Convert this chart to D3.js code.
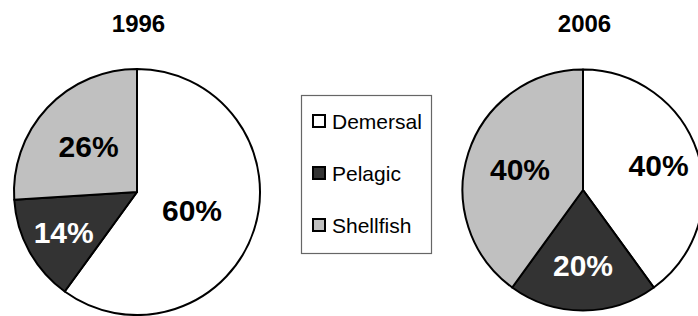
<!DOCTYPE html>
<html>
<head>
<meta charset="utf-8">
<script src="https://cdn.jsdelivr.net/npm/d3@7"></script>
<style>
  body { margin: 0; background: #fff; }
  svg text { font-family: Arial, "Liberation Sans", sans-serif; }
</style>
</head>
<body>
<div id="chart"></div>
<script>
// data
var categories = ["Demersal", "Pelagic", "Shellfish"];
var years = ["1996", "2006"];
var values1996 = [60, 14, 26];
var values2006 = [40, 20, 40];

// colours per category
var colors = ["#ffffff", "#333333", "#c0c0c0"];
var labelColors = ["#000000", "#ffffff", "#000000"];

var svgWidth = 698, svgHeight = 316;

var svg = d3.select("#chart")
    .append("svg")
    .attr("width", svgWidth)
    .attr("height", svgHeight);

// layout for the two pies (centre, radius, label distance as share of radius)
var pies = [
    { year: years[0], values: values1996, cx: 137, cy: 192, r: 123, labelR: [0.47, 0.68, 0.54] },
    { year: years[1], values: values2006, cx: 583, cy: 190, r: 120.5, labelR: [0.66, 0.62, 0.55] }
];

var pie = d3.pie().sort(null).value(d => d);

pies.forEach(function(p) {
    var g = svg.append("g")
        .attr("transform", `translate(${p.cx}, ${p.cy})`);

    var arc = d3.arc().innerRadius(0).outerRadius(p.r);
    var arcs = pie(p.values);

    g.selectAll("path")
        .data(arcs)
        .enter()
        .append("path")
        .attr("d", arc)
        .attr("fill", (d, i) => colors[i])
        .attr("stroke", "#000")
        .attr("stroke-width", 2)
        .attr("stroke-linejoin", "round");

    g.selectAll("text.pct")
        .data(arcs)
        .enter()
        .append("text")
        .attr("class", "pct")
        .attr("transform", function(d, i) {
            var la = d3.arc().innerRadius(p.r * p.labelR[i]).outerRadius(p.r * p.labelR[i]);
            return `translate(${la.centroid(d)})`;
        })
        .attr("dy", "0.36em")
        .attr("text-anchor", "middle")
        .attr("font-size", "30px")
        .attr("font-weight", "bold")
        .attr("fill", (d, i) => labelColors[i])
        .text(d => d.data + "%");

    // year title
    svg.append("text")
        .attr("x", p.cx + 1.5)
        .attr("y", 32)
        .attr("text-anchor", "middle")
        .attr("font-size", "24px")
        .attr("font-weight", "bold")
        .text(p.year);
});

// legend
var legend = svg.append("g")
    .attr("transform", "translate(301, 95)");

legend.append("rect")
    .attr("x", 0.5)
    .attr("y", 0.5)
    .attr("width", 130)
    .attr("height", 158)
    .attr("fill", "#fff")
    .attr("stroke", "#666")
    .attr("stroke-width", 1.2);

var items = legend.selectAll("g.item")
    .data(categories)
    .enter()
    .append("g")
    .attr("class", "item")
    .attr("transform", (d, i) => `translate(12, ${20 + i * 52})`);

items.append("rect")
    .attr("width", 12)
    .attr("height", 12)
    .attr("fill", (d, i) => colors[i])
    .attr("stroke", "#000")
    .attr("stroke-width", 2);

items.append("text")
    .attr("x", 19)
    .attr("y", 14)
    .attr("font-size", "21px")
    .text(d => d);
</script>
</body>
</html>
